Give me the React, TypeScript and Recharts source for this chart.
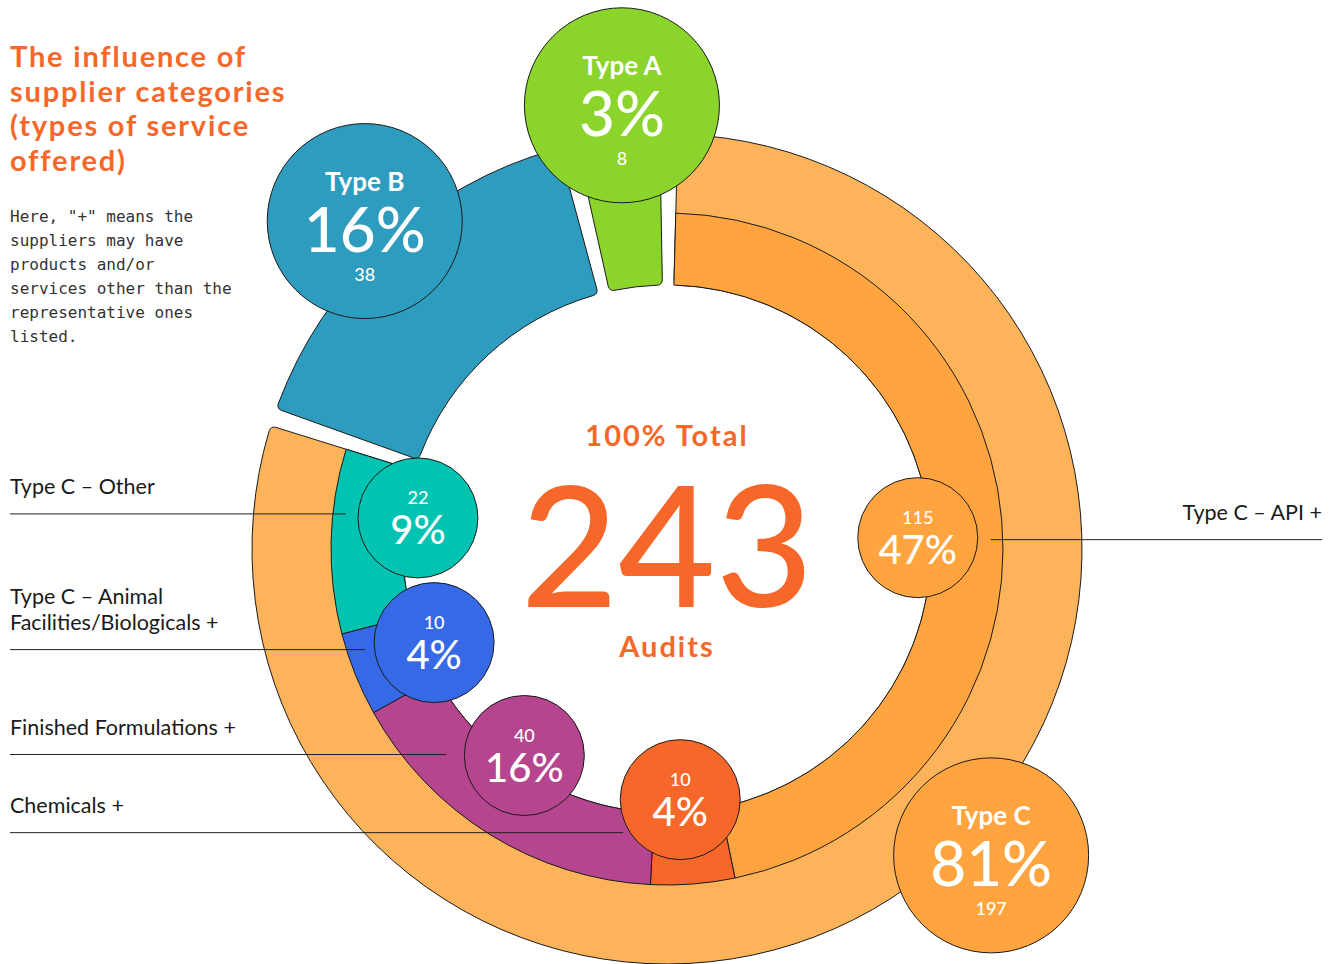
import React from 'react';
import { PieChart, Pie, Cell } from 'recharts';

// ---------- data ----------
const supplierTypes = ['Type C', 'Type B', 'Type A'];
const supplierAudits = [197, 38, 8];

const typeCSubcategories = [
  'Type C – API +',
  'Chemicals +',
  'Finished Formulations +',
  'Type C – Animal\nFacilities/Biologicals +',
  'Type C – Other',
];
const typeCAudits = [115, 10, 40, 10, 22];

const titleLines = ['The influence of', 'supplier categories', '(types of service', 'offered)'];
const noteLines = [
  'Here, "+" means the',
  'suppliers may have',
  'products and/or',
  'services other than the',
  'representative ones',
  'listed.',
];

// ---------- layout / style ----------
const W = 1338;
const H = 964;
const CX = 667;
const CY = 549;
const OUTER_R = 415;
const MID_R = 336;
const INNER_R = 264;
const START = 88.5;
const PAD = 2.5;

const ORANGE_TEXT = '#F6682A';
const STROKE = '#1a1a1a';

const sectorColors: Record<string, string> = {
  'Type C': '#FDB35A',
  'Type B': '#2E9CBE',
  'Type A': '#8BD42B',
};
const bubbleColors: Record<string, string> = {
  'Type C': '#FFA43E',
  'Type B': '#2E9CBE',
  'Type A': '#8BD42B',
};
const subColors = ['#FFA43E', '#F8672A', '#B5458E', '#3569E6', '#00C3B1'];

// small angular nudges of bubble placement (degrees)
const bubbleNudge: Record<string, number> = {
  'Type C': 11,
  'Type A': -1,
  'Type C – API +': -2.5,
  'Chemicals +': -1.4,
  'Finished Formulations +': -2.8,
  'Type C – Other': -5.8,
};
// leader line: side, vertical offset from bubble centre, horizontal gap from bubble centre
const leader: Record<string, { right: boolean; dy: number; gap: number }> = {
  'Type C – API +': { right: true, dy: 2, gap: 73 },
  'Chemicals +': { right: false, dy: 33, gap: 57 },
  'Finished Formulations +': { right: false, dy: -1, gap: 78 },
  'Type C – Animal\nFacilities/Biologicals +': { right: false, dy: 7, gap: 69 },
  'Type C – Other': { right: false, dy: -4, gap: 72 },
};

const outerData = supplierTypes.map((name, i) => ({ name, value: supplierAudits[i] }));
const innerData = typeCSubcategories.map((name, i) => ({ name, value: typeCAudits[i] }));
const TOTAL = supplierAudits.reduce((a, b) => a + b, 0);
const C_SPAN = ((360 - PAD * outerData.length) * supplierAudits[0]) / TOTAL;

const RAD = Math.PI / 180;
const polar = (cx: number, cy: number, r: number, angle: number) => ({
  x: cx + r * Math.cos(-angle * RAD),
  y: cy + r * Math.sin(-angle * RAD),
});
const pct = (v: number) => `${Math.round((v / TOTAL) * 100)}%`;

const FONT = 'Lato, "Open Sans", sans-serif';

function OuterBubble(props: any) {
  const { cx, cy, midAngle, outerRadius, value } = props;
  const name = props.payload?.name ?? props.name;
  const p = polar(cx, cy, outerRadius + 31, midAngle + (bubbleNudge[name] || 0));
  return (
    <g>
      <circle cx={p.x} cy={p.y} r={97.5} fill={bubbleColors[name]} stroke={STROKE} strokeWidth={1} />
      <text x={p.x} y={p.y - 30} textAnchor="middle" fill="#fff" fontFamily={FONT} fontWeight={700} fontSize={26}>
        {name}
      </text>
      <text x={p.x} y={p.y + 31} textAnchor="middle" fill="#fff" fontFamily={FONT} fontWeight={500} fontSize={62}>
        {pct(value)}
      </text>
      <text x={p.x} y={p.y + 60} textAnchor="middle" fill="#fff" fontFamily={FONT} fontWeight={500} fontSize={18}>
        {value}
      </text>
    </g>
  );
}

function bubbleCentre(props: any) {
  const { cx, cy, midAngle, innerRadius } = props;
  const name = props.payload?.name ?? props.name;
  return polar(cx, cy, innerRadius - 13, midAngle + (bubbleNudge[name] || 0));
}

function InnerLeader(props: any) {
  const name: string = props.payload?.name ?? props.name;
  const p = bubbleCentre(props);
  const cfg = leader[name];
  const y = p.y + cfg.dy;
  const right = cfg.right;
  const lines = name.split('\n');
  const x1 = right ? p.x + cfg.gap : 10;
  const x2 = right ? W - 16 : p.x - cfg.gap;
  return (
    <g>
      <line x1={x1} x2={x2} y1={y} y2={y} stroke="#222" strokeWidth={1} />
      {lines.map((l, i) => (
        <text
          key={i}
          x={right ? W - 16 : 10}
          y={y - 20 - (lines.length - 1 - i) * 26}
          textAnchor={right ? 'end' : 'start'}
          fill="#1a1a1a"
          fontFamily={FONT}
          fontSize={21.5}
        >
          {l}
        </text>
      ))}
    </g>
  );
}

function InnerBubble(props: any) {
  const { value } = props;
  const p = bubbleCentre(props);
  return (
    <g>
      <circle cx={p.x} cy={p.y} r={60} fill={subColors[props.index]} stroke={STROKE} strokeWidth={1} />
      <text x={p.x} y={p.y - 14} textAnchor="middle" fill="#fff" fontFamily={FONT} fontWeight={500} fontSize={18}>
        {value}
      </text>
      <text x={p.x} y={p.y + 26} textAnchor="middle" fill="#fff" fontFamily={FONT} fontWeight={500} fontSize={40}>
        {pct(value)}
      </text>
    </g>
  );
}

export default function App() {
  return (
    <div style={{ position: 'absolute', left: 0, top: 0, width: W, height: H, background: '#fff' }}>
      <PieChart width={W} height={H} margin={{ top: 0, right: 0, bottom: 0, left: 0 }}>
        {/* outer ring: C (thin outer band) and A/B (full band) */}
        <Pie
          data={outerData}
          dataKey="value"
          nameKey="name"
          cx={CX}
          cy={CY}
          innerRadius={INNER_R}
          outerRadius={OUTER_R}
          startAngle={START}
          endAngle={START - 360}
          paddingAngle={PAD}
          cornerRadius={5}
          stroke={STROKE}
          strokeWidth={1}
          isAnimationActive={false}
        >
          {outerData.map((d) => (
            <Cell key={d.name} fill={sectorColors[d.name]} />
          ))}
        </Pie>
        {/* inner ring: Type C breakdown */}
        <Pie
          data={innerData}
          dataKey="value"
          nameKey="name"
          cx={CX}
          cy={CY}
          innerRadius={INNER_R}
          outerRadius={MID_R}
          startAngle={START}
          endAngle={START - C_SPAN}
          paddingAngle={0}
          stroke={STROKE}
          strokeWidth={1}
          isAnimationActive={false}
        >
          {innerData.map((d, i) => (
            <Cell key={d.name} fill={subColors[i]} />
          ))}
        </Pie>
        {/* leader lines and category names */}
        <Pie
          data={innerData}
          dataKey="value"
          nameKey="name"
          cx={CX}
          cy={CY}
          innerRadius={INNER_R}
          outerRadius={MID_R}
          startAngle={START}
          endAngle={START - C_SPAN}
          fill="none"
          stroke="none"
          label={InnerLeader}
          labelLine={false}
          isAnimationActive={false}
        />
        {/* inner bubbles */}
        <Pie
          data={innerData}
          dataKey="value"
          nameKey="name"
          cx={CX}
          cy={CY}
          innerRadius={INNER_R}
          outerRadius={MID_R}
          startAngle={START}
          endAngle={START - C_SPAN}
          fill="none"
          stroke="none"
          label={InnerBubble}
          labelLine={false}
          isAnimationActive={false}
        />
        {/* outer bubbles */}
        <Pie
          data={outerData}
          dataKey="value"
          nameKey="name"
          cx={CX}
          cy={CY}
          innerRadius={INNER_R}
          outerRadius={OUTER_R}
          startAngle={START}
          endAngle={START - 360}
          paddingAngle={PAD}
          fill="none"
          stroke="none"
          label={OuterBubble}
          labelLine={false}
          isAnimationActive={false}
        />
      </PieChart>
      <svg
        width={W}
        height={H}
        style={{ position: 'absolute', left: 0, top: 0, pointerEvents: 'none' }}
      >
        {titleLines.map((t, i) => (
          <text
            key={t}
            x={10}
            y={67 + i * 34.5}
            fill={ORANGE_TEXT}
            fontFamily={FONT}
            fontWeight={700}
            fontSize={29}
            letterSpacing={1.8}
          >
            {t}
          </text>
        ))}
        {noteLines.map((t, i) => (
          <text key={t} x={10} y={222 + i * 24} fill="#333" fontFamily='"DejaVu Sans Mono", monospace' fontSize={16}>
            {t}
          </text>
        ))}
        <text
          x={CX}
          y={446}
          textAnchor="middle"
          fill={ORANGE_TEXT}
          fontFamily={FONT}
          fontWeight={700}
          fontSize={29}
          letterSpacing={2}
        >
          100% Total
        </text>
        <text x={CX} y={607} textAnchor="middle" fill={ORANGE_TEXT} fontFamily={FONT} fontWeight={500} fontSize={168}>
          {TOTAL}
        </text>
        <text
          x={CX}
          y={657}
          textAnchor="middle"
          fill={ORANGE_TEXT}
          fontFamily={FONT}
          fontWeight={700}
          fontSize={29}
          letterSpacing={2}
        >
          Audits
        </text>
      </svg>
    </div>
  );
}
